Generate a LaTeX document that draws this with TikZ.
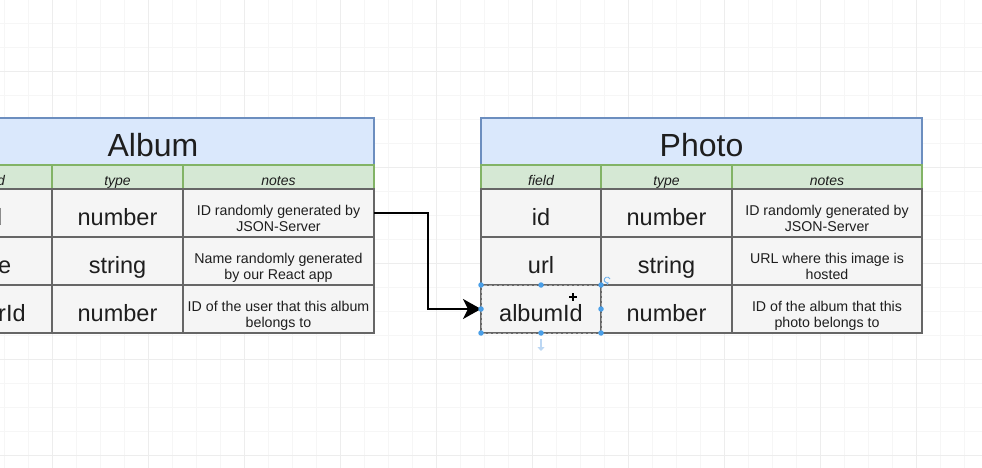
\documentclass[tikz,border=0pt]{standalone}
\usepackage{fontspec}
\setmainfont{Liberation Sans}
\usetikzlibrary{arrows.meta,calc}
\definecolor{titlefill}{HTML}{DAE8FC}
\definecolor{titleborder}{HTML}{6C8EBF}
\definecolor{headfill}{HTML}{D5E8D4}
\definecolor{headborder}{HTML}{82B366}
\definecolor{rowfill}{HTML}{F5F5F5}
\definecolor{rowborder}{HTML}{666666}
\definecolor{gridminor}{HTML}{F6F6F6}
\definecolor{gridmajor}{HTML}{EDEDED}
\definecolor{selblue}{HTML}{4A9FE8}
\definecolor{paleblue}{HTML}{BCD7F3}
\definecolor{txt}{HTML}{1E1E1E}
\tikzset{
  cellbase/.style={inner sep=0pt, outer sep=0pt, anchor=north west, text=txt},
  titlecell/.style={cellbase, draw=titleborder, fill=titlefill, line width=1.5pt,
    minimum height=47pt, text height=31pt, text depth=0pt, font=\fontsize{32}{38}\selectfont},
  headcell/.style={cellbase, draw=headborder, fill=headfill, line width=1.5pt,
    minimum height=24pt, text height=16pt, text depth=0pt, font=\fontsize{14}{16}\selectfont\itshape},
  rowcell/.style={cellbase, draw=rowborder, fill=rowfill, line width=2pt,
    minimum height=48pt, text height=25pt, text depth=0pt, font=\fontsize{23.5}{27}\selectfont},
  notecell/.style={rowcell, text height=12pt, text depth=8pt, font=\fontsize{14.2}{16}\selectfont},
  fw/.style={minimum width=120pt},
  tw/.style={minimum width=131pt},
  link/.style={line width=2.2pt, black, -{Stealth[length=18pt,width=20pt,inset=5pt]}},
  handle/.style={circle, fill=selblue, inner sep=0pt, minimum size=5.5pt},
  minorline/.style={gridminor, line width=0.8pt},
  majorline/.style={gridmajor, line width=0.8pt},
}
\newcommand{\twolines}[2]{\begin{tabular}[t]{@{}c@{}}#1\\#2\end{tabular}}
\begin{document}
\begin{tikzpicture}[x=1pt,y=-1pt]
\useasboundingbox (0,0) rectangle (982,468);
\fill[white] (0,0) rectangle (982,468);
% grid
\foreach \x in {4,28,...,980} \draw[minorline] (\x,0) -- (\x,468);
\foreach \y in {-1,23,...,468} \draw[minorline] (0,\y) -- (982,\y);
\foreach \x in {52,148,...,980} \draw[majorline] (\x,0) -- (\x,468);
\foreach \y in {71,167,...,468} \draw[majorline] (0,\y) -- (982,\y);

% Album table
\node[titlecell, minimum width=442pt] (a-title) at (-68,118) {Album};
\node[headcell, fw] (a-h-f) at (-68,165) {field};
\node[headcell, tw] (a-h-t) at (52,165) {type};
\node[headcell, minimum width=191pt] (a-h-n) at (183,165) {notes};
\node[rowcell, fw] (a-id-f) at (-67,189) {id};
\node[rowcell, tw] (a-id-t) at (52,189) {number};
\node[notecell, minimum width=191pt] (a-id-n) at (183,189) {\twolines{ID randomly generated by}{JSON-Server}};
\node[rowcell, fw] (a-title-f) at (-67,237) {title};
\node[rowcell, tw] (a-title-t) at (52,237) {string};
\node[notecell, minimum width=191pt] (a-title-n) at (183,237) {\twolines{Name randomly generated}{by our React app}};
\node[rowcell, fw] (a-user-f) at (-67,285) {userId};
\node[rowcell, tw] (a-user-t) at (52,285) {number};
\node[notecell, minimum width=191pt] (a-user-n) at (183,285) {\twolines{ID of the user that this album}{belongs to}};

% Photo table
\node[titlecell, minimum width=441pt] (p-title) at (481,118) {Photo};
\node[headcell, fw] (p-h-f) at (481,165) {field};
\node[headcell, tw] (p-h-t) at (601,165) {type};
\node[headcell, minimum width=190pt] (p-h-n) at (732,165) {notes};
\node[rowcell, fw] (p-id-f) at (481,189) {id};
\node[rowcell, tw] (p-id-t) at (601,189) {number};
\node[notecell, minimum width=190pt] (p-id-n) at (732,189) {\twolines{ID randomly generated by}{JSON-Server}};
\node[rowcell, fw] (p-url-f) at (481,237) {url};
\node[rowcell, tw] (p-url-t) at (601,237) {string};
\node[notecell, minimum width=190pt] (p-url-n) at (732,237) {\twolines{URL where this image is}{hosted}};
\node[rowcell, fw] (p-album-f) at (481,285) {albumId};
\node[rowcell, tw] (p-album-t) at (601,285) {number};
\node[notecell, minimum width=190pt] (p-album-n) at (732,285) {\twolines{ID of the album that this}{photo belongs to}};

% connector
\draw[link] (a-id-n.east) -- ++(54,0) |- (p-album-f.west);

% selection decoration on albumId
\draw[gray!70, line width=1pt, dash pattern=on 3pt off 2pt] (p-album-f.north west) rectangle (p-album-f.south east);
\foreach \a in {north west,north,north east,west,east,south west,south,south east}
  \node[handle] at (p-album-f.\a) {};
\draw[selblue!80, line width=0.9pt, -{Stealth[length=2.5pt,width=3pt]}] (610,279) arc[start angle=20, end angle=300, radius=3pt];
\draw[paleblue, line width=1.6pt, -{Triangle[length=4pt,width=7pt]}] (541,339) -- (541,351);
\coordinate (cur) at (573,297);
\draw[black, line width=1.1pt] ($(cur)+(-4,0)$) -- ($(cur)+(4,0)$);
\draw[black, line width=1.1pt] ($(cur)+(0,-4)$) -- ($(cur)+(0,4)$);
\end{tikzpicture}
\end{document}
